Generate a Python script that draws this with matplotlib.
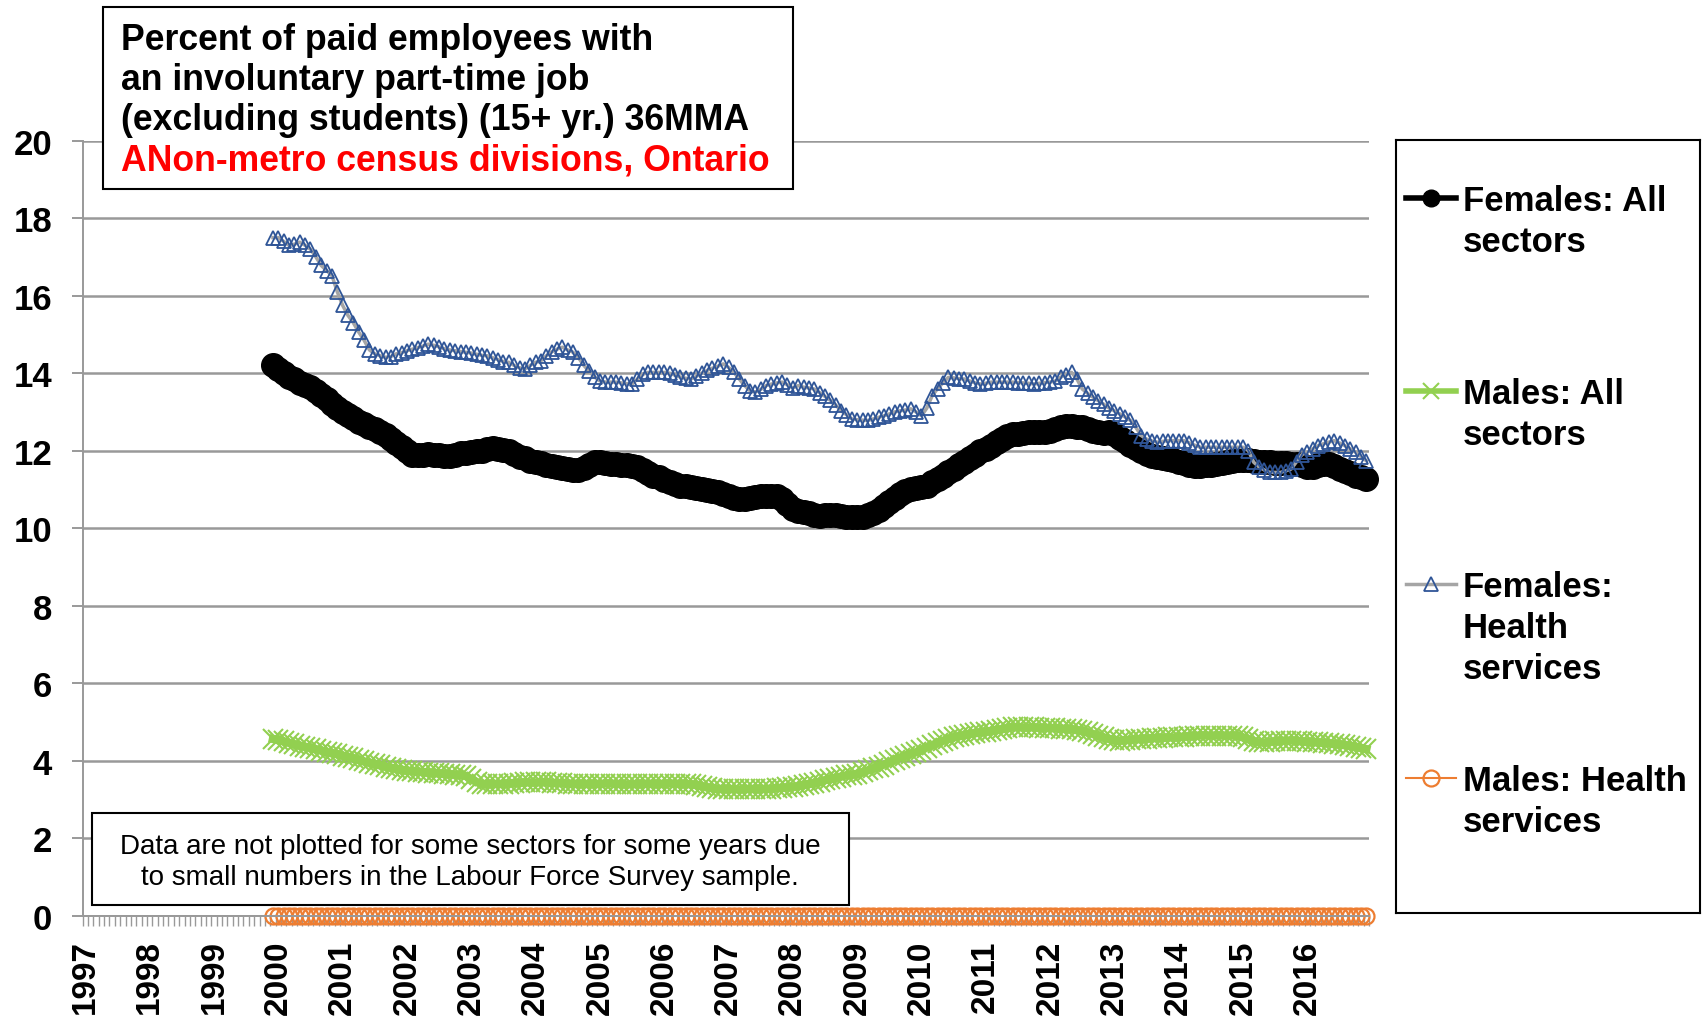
import numpy as np
import pandas as pd
import matplotlib
matplotlib.use("Agg")
import matplotlib.pyplot as plt
from matplotlib.patches import Rectangle

plt.rcParams['font.family'] = ['Liberation Sans', 'DejaVu Sans']

# monthly categories on the x axis, labelled once a year
months = pd.period_range('1997-01', '2016-12', freq='M')
year_labels = [str(y) for y in range(1997, 2017)]
series_start = pd.Period('1999-12', freq='M')

# 36-month moving averages, Dec 1999 .. Dec 2016 (one row per year)
females_all = [
    14.20,
    14.10, 14.00, 13.90, 13.85, 13.75, 13.70, 13.64, 13.55, 13.45, 13.33, 13.20, 13.10,
    13.00, 12.92, 12.85, 12.73, 12.68, 12.62, 12.55, 12.47, 12.40, 12.30, 12.20, 12.10,
    11.98, 11.90, 11.88, 11.90, 11.92, 11.90, 11.88, 11.86, 11.87, 11.90, 11.93, 11.95,
    11.96, 11.98, 12.00, 12.04, 12.06, 12.05, 12.02, 12.00, 11.92, 11.85, 11.80, 11.74,
    11.70, 11.67, 11.64, 11.60, 11.57, 11.55, 11.52, 11.50, 11.50, 11.55, 11.62, 11.70,
    11.70, 11.68, 11.66, 11.66, 11.64, 11.62, 11.60, 11.57, 11.50, 11.42, 11.35, 11.31,
    11.25, 11.20, 11.15, 11.10, 11.08, 11.06, 11.04, 11.00, 10.98, 10.97, 10.93, 10.88,
    10.83, 10.79, 10.75, 10.76, 10.78, 10.80, 10.82, 10.84, 10.84, 10.84, 10.75, 10.62,
    10.50, 10.45, 10.42, 10.38, 10.34, 10.32, 10.33, 10.35, 10.35, 10.32, 10.30, 10.28,
    10.28, 10.30, 10.35, 10.40, 10.48, 10.57, 10.67, 10.77, 10.87, 10.95, 11.00, 11.04,
    11.06, 11.10, 11.18, 11.28, 11.36, 11.44, 11.52, 11.62, 11.70, 11.80, 11.90, 11.98,
    12.05, 12.13, 12.22, 12.30, 12.39, 12.42, 12.44, 12.46, 12.47, 12.47, 12.47, 12.48,
    12.52, 12.57, 12.62, 12.65, 12.64, 12.62, 12.60, 12.55, 12.50, 12.47, 12.46, 12.47,
    12.42, 12.34, 12.25, 12.15, 12.06, 11.98, 11.92, 11.87, 11.83, 11.80, 11.79, 11.76,
    11.72, 11.68, 11.64, 11.60, 11.60, 11.62, 11.64, 11.66, 11.68, 11.72, 11.74, 11.75,
    11.75, 11.75, 11.73, 11.72, 11.70, 11.70, 11.69, 11.68, 11.67, 11.66, 11.66, 11.63,
    11.58, 11.57, 11.62, 11.66, 11.65, 11.60, 11.53, 11.47, 11.42, 11.36, 11.31, 11.27,
]

males_all = [
    4.56,
    4.53, 4.50, 4.46, 4.42, 4.39, 4.36, 4.33, 4.30, 4.26, 4.22, 4.19, 4.17,
    4.13, 4.10, 4.06, 4.02, 3.98, 3.94, 3.91, 3.88, 3.85, 3.82, 3.79, 3.77,
    3.74, 3.73, 3.72, 3.71, 3.69, 3.68, 3.67, 3.66, 3.65, 3.64, 3.63, 3.61,
    3.52, 3.45, 3.40, 3.40, 3.40, 3.40, 3.40, 3.41, 3.42, 3.43, 3.44, 3.44,
    3.44, 3.44, 3.44, 3.43, 3.42, 3.42, 3.41, 3.41, 3.40, 3.40, 3.40, 3.40,
    3.40, 3.41, 3.41, 3.40, 3.40, 3.39, 3.39, 3.40, 3.40, 3.41, 3.40, 3.40,
    3.40, 3.41, 3.41, 3.40, 3.40, 3.39, 3.37, 3.34, 3.31, 3.29, 3.27, 3.27,
    3.27, 3.26, 3.26, 3.27, 3.27, 3.27, 3.27, 3.27, 3.28, 3.29, 3.30, 3.31,
    3.32, 3.34, 3.37, 3.40, 3.42, 3.44, 3.50, 3.53, 3.56, 3.59, 3.62, 3.64,
    3.66, 3.70, 3.75, 3.80, 3.85, 3.90, 3.96, 4.02, 4.08, 4.13, 4.18, 4.22,
    4.28, 4.34, 4.40, 4.46, 4.51, 4.56, 4.60, 4.63, 4.66, 4.69, 4.71, 4.73,
    4.75, 4.77, 4.79, 4.81, 4.84, 4.86, 4.86, 4.86, 4.86, 4.86, 4.85, 4.85,
    4.84, 4.84, 4.83, 4.82, 4.81, 4.79, 4.76, 4.73, 4.69, 4.64, 4.60, 4.56,
    4.53, 4.52, 4.53, 4.54, 4.55, 4.56, 4.57, 4.58, 4.59, 4.59, 4.60, 4.60,
    4.61, 4.62, 4.63, 4.64, 4.65, 4.65, 4.65, 4.65, 4.65, 4.65, 4.65, 4.64,
    4.60, 4.55, 4.50, 4.47, 4.47, 4.48, 4.50, 4.51, 4.52, 4.52, 4.51, 4.50,
    4.49, 4.48, 4.47, 4.46, 4.45, 4.43, 4.42, 4.40, 4.38, 4.36, 4.33, 4.30,
]

females_health = [
    17.50,
    17.50, 17.40, 17.30, 17.33, 17.38, 17.30, 17.20, 17.00, 16.78, 16.65, 16.52, 16.10,
    15.75, 15.49, 15.30, 15.06, 14.85, 14.60, 14.50, 14.45, 14.41, 14.43, 14.50, 14.53,
    14.58, 14.62, 14.66, 14.70, 14.75, 14.72, 14.68, 14.63, 14.60, 14.58, 14.56, 14.54,
    14.52, 14.49, 14.46, 14.45, 14.40, 14.35, 14.30, 14.28, 14.20, 14.14, 14.11, 14.20,
    14.28, 14.32, 14.45, 14.55, 14.62, 14.67, 14.60, 14.54, 14.40, 14.20, 14.05, 13.90,
    13.80, 13.77, 13.77, 13.77, 13.75, 13.73, 13.72, 13.85, 13.97, 14.02, 14.02, 14.02,
    14.02, 14.00, 13.95, 13.90, 13.87, 13.85, 13.92, 14.00, 14.07, 14.13, 14.18, 14.24,
    14.15, 14.02, 13.85, 13.68, 13.55, 13.51, 13.58, 13.68, 13.72, 13.75, 13.77, 13.70,
    13.62, 13.68, 13.64, 13.62, 13.59, 13.50, 13.40, 13.30, 13.18, 13.03, 12.93, 12.82,
    12.80, 12.79, 12.78, 12.82, 12.86, 12.90, 12.95, 13.00, 13.03, 13.05, 13.08, 13.00,
    12.90, 13.10, 13.42, 13.60, 13.75, 13.89, 13.88, 13.86, 13.85, 13.80, 13.75, 13.72,
    13.74, 13.77, 13.77, 13.77, 13.77, 13.77, 13.76, 13.75, 13.74, 13.72, 13.74, 13.76,
    13.77, 13.80, 13.90, 13.96, 14.02, 13.85, 13.59, 13.48, 13.38, 13.29, 13.20, 13.10,
    13.03, 12.95, 12.87, 12.78, 12.60, 12.39, 12.30, 12.25, 12.22, 12.24, 12.26, 12.26,
    12.26, 12.26, 12.20, 12.14, 12.09, 12.09, 12.09, 12.09, 12.09, 12.09, 12.09, 12.09,
    12.09, 12.00, 11.70, 11.58, 11.50, 11.44, 11.44, 11.44, 11.48, 11.53, 11.72, 11.90,
    11.96, 12.05, 12.13, 12.18, 12.22, 12.26, 12.20, 12.13, 12.05, 11.96, 11.85, 11.74,
]

males_health = [
    0.0,
    0.0, 0.0, 0.0, 0.0, 0.0, 0.0, 0.0, 0.0, 0.0, 0.0, 0.0, 0.0,
    0.0, 0.0, 0.0, 0.0, 0.0, 0.0, 0.0, 0.0, 0.0, 0.0, 0.0, 0.0,
    0.0, 0.0, 0.0, 0.0, 0.0, 0.0, 0.0, 0.0, 0.0, 0.0, 0.0, 0.0,
    0.0, 0.0, 0.0, 0.0, 0.0, 0.0, 0.0, 0.0, 0.0, 0.0, 0.0, 0.0,
    0.0, 0.0, 0.0, 0.0, 0.0, 0.0, 0.0, 0.0, 0.0, 0.0, 0.0, 0.0,
    0.0, 0.0, 0.0, 0.0, 0.0, 0.0, 0.0, 0.0, 0.0, 0.0, 0.0, 0.0,
    0.0, 0.0, 0.0, 0.0, 0.0, 0.0, 0.0, 0.0, 0.0, 0.0, 0.0, 0.0,
    0.0, 0.0, 0.0, 0.0, 0.0, 0.0, 0.0, 0.0, 0.0, 0.0, 0.0, 0.0,
    0.0, 0.0, 0.0, 0.0, 0.0, 0.0, 0.0, 0.0, 0.0, 0.0, 0.0, 0.0,
    0.0, 0.0, 0.0, 0.0, 0.0, 0.0, 0.0, 0.0, 0.0, 0.0, 0.0, 0.0,
    0.0, 0.0, 0.0, 0.0, 0.0, 0.0, 0.0, 0.0, 0.0, 0.0, 0.0, 0.0,
    0.0, 0.0, 0.0, 0.0, 0.0, 0.0, 0.0, 0.0, 0.0, 0.0, 0.0, 0.0,
    0.0, 0.0, 0.0, 0.0, 0.0, 0.0, 0.0, 0.0, 0.0, 0.0, 0.0, 0.0,
    0.0, 0.0, 0.0, 0.0, 0.0, 0.0, 0.0, 0.0, 0.0, 0.0, 0.0, 0.0,
    0.0, 0.0, 0.0, 0.0, 0.0, 0.0, 0.0, 0.0, 0.0, 0.0, 0.0, 0.0,
    0.0, 0.0, 0.0, 0.0, 0.0, 0.0, 0.0, 0.0, 0.0, 0.0, 0.0, 0.0,
    0.0, 0.0, 0.0, 0.0, 0.0, 0.0, 0.0, 0.0, 0.0, 0.0, 0.0, 0.0,
]

title_lines = ["Percent of paid employees with",
               "an involuntary part-time job",
               "(excluding students) (15+ yr.) 36MMA"]
subtitle = "ANon-metro census divisions, Ontario"
note = ("Data are not plotted for some sectors for some years due\n"
        "to small numbers in the Labour Force Survey sample.")

# series styles: label, data, plot kwargs
series = [
    ("Females: All\nsectors", females_all,
     dict(color='black', lw=5, marker='o', ms=17, mfc='black', mec='black')),
    ("Males: All\nsectors", males_all,
     dict(color='#92D050', lw=6, marker='x', ms=15, mew=1.5)),
    ("Females:\nHealth\nservices", females_health,
     dict(color='#A5A5A5', lw=2.5, marker='^', ms=10.5, mfc='none',
          mec='#2F5597', mew=1.3)),
    ("Males: Health\nservices", males_health,
     dict(color='#ED7D31', lw=1.5, marker='o', ms=11.5, mfc='none',
          mec='#ED7D31', mew=1.6)),
]

W, H = 1706, 1020
fig = plt.figure(figsize=(W / 100, H / 100), dpi=100)


def fx(px):
    return px / W


def fy(py):
    return 1 - py / H


ax = fig.add_axes([fx(82.7), fy(916.7), fx(1369) - fx(82.7), fy(141.7) - fy(916.7)])

x = np.arange(months.get_loc(series_start), len(months))
for label, values, style in series:
    ax.plot(x, values, clip_on=False, **style)

ax.set_xlim(-0.5, len(months) - 0.5)
ax.set_ylim(0, 20)
ax.set_yticks(range(0, 21, 2))
ax.yaxis.grid(True, color='#999999', lw=1.8)
ax.set_axisbelow(True)
for side in ('top', 'right'):
    ax.spines[side].set_visible(False)
for side in ('left', 'bottom'):
    ax.spines[side].set_color('#999999')
    ax.spines[side].set_linewidth(1.4)

ax.set_xticks(np.arange(0, len(months), 12))
ax.set_xticklabels(year_labels, rotation=90, fontsize=24, fontweight='bold')
ax.set_xticks(np.arange(-0.5, len(months), 1), minor=True)
ax.tick_params(axis='x', which='major', length=0, pad=17)
ax.tick_params(axis='x', which='minor', length=7, width=1, color='#999999')
ax.tick_params(axis='y', length=8, width=1.4, color='#999999', pad=14,
               labelsize=25)
for t in ax.get_yticklabels():
    t.set_fontweight('bold')

# title box
fig.add_artist(Rectangle((fx(103), fy(190)), fx(793) - fx(103), fy(8) - fy(190),
                         transform=fig.transFigure, facecolor='white',
                         edgecolor='black', lw=1.5))
for i, line in enumerate(title_lines + [subtitle]):
    fig.text(fx(121), fy(40 + 40.5 * i), line, ha='left', va='center',
             fontsize=25.7, fontweight='bold',
             color='red' if line == subtitle else 'black')

# note box
fig.add_artist(Rectangle((fx(92), fy(906)), fx(849) - fx(92), fy(814) - fy(906),
                         transform=fig.transFigure, facecolor='white',
                         edgecolor='black', lw=1.5))
fig.text(fx(470), fy(863), note, ha='center', va='center', fontsize=20,
         linespacing=1.25)

# legend panel
lax = fig.add_axes([fx(1396), fy(914), fx(1700) - fx(1396), fy(141) - fy(914)])
lax.set_xlim(0, 304)
lax.set_ylim(773, 0)
lax.set_xticks([])
lax.set_yticks([])
for sp in lax.spines.values():
    sp.set_color('black')
    sp.set_linewidth(1.5)

legend_y = [58, 251, 444, 638]
for (label, values, style), ly in zip(series, legend_y):
    hs = dict(style)
    hs['ms'] = min(hs['ms'], 12)
    hs['lw'] = min(hs['lw'], 4)
    lax.plot([10, 35, 60], [ly, ly, ly], markevery=[1], **hs)
    lax.text(67, ly - 14, label, ha='left', va='top', fontsize=25,
             fontweight='bold', linespacing=1.3)

fig.savefig("out.png", dpi=100)
